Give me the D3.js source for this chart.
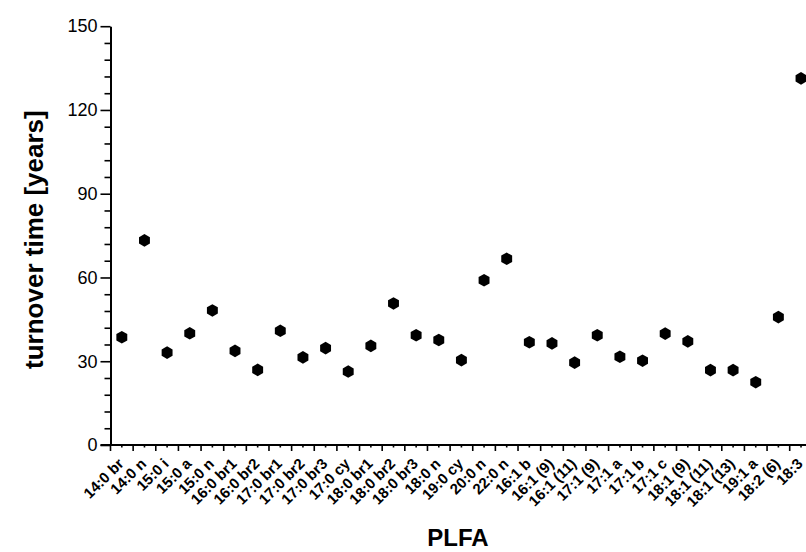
<!DOCTYPE html>
<html>
<head>
<meta charset="utf-8">
<script src="https://cdn.jsdelivr.net/npm/d3@7"></script>
<style>
  html, body { margin: 0; padding: 0; background: #fff; }
  svg { display: block; font-family: Arial, "Liberation Sans", sans-serif; }
</style>
</head>
<body>
<svg id="chart" width="806" height="552"></svg>
<script>
const categories = ["14:0 br","14:0 n","15:0 i","15:0 a","15:0 n","16:0 br1","16:0 br2","17:0 br1","17:0 br2","17:0 br3","17:0 cy","18:0 br1","18:0 br2","18:0 br3","18:0 n","19:0 cy","20:0 n","22:0 n","16:1 b","16:1 (9)","16:1 (11)","17:1 (9)","17:1 a","17:1 b","17:1 c","18:1 (9)","18:1 (11)","18:1 (13)","19:1 a","18:2 (6)","18:3"];
const turnoverYears = [38.6,73.3,33.1,40.0,48.2,33.7,26.9,40.9,31.4,34.7,26.3,35.5,50.7,39.3,37.6,30.4,59.0,66.7,36.8,36.4,29.5,39.3,31.6,30.2,39.9,37.1,26.8,26.8,22.5,45.8,131.3];
const yTickValues = [0,30,60,90,120,150];
const yMinorStep = 6;
const yTitle = "turnover time [years]";
const xTitle = "PLFA";

(function () {
const svg = d3.select("#chart");
const mLeft = 110.5, mTop = 26.2, mBottom = 445;
const bandW = 22.64;
const mRight = mLeft + bandW * categories.length;

const x = d3.scaleBand().domain(categories).range([mLeft, mRight]).padding(0);
const y = d3.scaleLinear().domain([0, 150]).range([mBottom, mTop]);

// y minor ticks
const yMinor = d3.range(0, 151, yMinorStep).filter(v => !yTickValues.includes(v));
svg.append("g").attr("transform", `translate(${mLeft},0)`)
  .call(d3.axisLeft(y).tickValues(yMinor).tickSize(6).tickFormat(""))
  .call(g => g.select(".domain").remove())
  .call(g => g.selectAll("line").attr("stroke", "#000").attr("stroke-width", 1.6));

// y major axis
const yAxis = svg.append("g").attr("transform", `translate(${mLeft},0)`)
  .call(d3.axisLeft(y).tickValues(yTickValues).tickSize(10).tickSizeOuter(0).tickPadding(3));
yAxis.select(".domain").attr("stroke", "#000").attr("stroke-width", 2);
yAxis.selectAll(".tick line").attr("stroke", "#000").attr("stroke-width", 1.6);
yAxis.selectAll(".tick text")
  .attr("font-family", "Arial, 'Liberation Sans', sans-serif")
  .attr("font-size", 18).attr("fill", "#000");

// x axis: small ticks at category centers, labels rotated
const xAxis = svg.append("g").attr("transform", `translate(0,${mBottom})`)
  .call(d3.axisBottom(x).tickSize(2.5).tickSizeOuter(0).tickPadding(0));
xAxis.select(".domain").attr("stroke", "#000").attr("stroke-width", 2)
  .attr("d", `M${mLeft - 10},0H${mRight}`);
xAxis.selectAll(".tick line").attr("stroke", "#000").attr("stroke-width", 1.6);
xAxis.selectAll(".tick text")
  .attr("font-family", "Arial, 'Liberation Sans', sans-serif")
  .attr("font-size", 15).attr("font-weight", "bold").attr("fill", "#000")
  .attr("text-anchor", "end")
  .attr("transform", "translate(-1,16) rotate(-45)")
  .attr("y", 0).attr("x", 0).attr("dy", "0.35em");

// x major ticks at band boundaries
const boundaries = categories.map(c => x(c)).concat([mRight]);
svg.append("g").selectAll("line").data(boundaries).join("line")
  .attr("x1", d => d).attr("x2", d => d)
  .attr("y1", mBottom).attr("y2", mBottom + 6)
  .attr("stroke", "#000").attr("stroke-width", 1.6);

// hexagon markers
const r = 6.3;
const hex = d3.range(6).map(i => {
  const a = (Math.PI / 180) * (-90 + 60 * i);
  return [r * Math.cos(a), r * Math.sin(a)];
});
const hexPath = "M" + hex.map(p => p.join(",")).join("L") + "Z";
svg.append("g").selectAll("path").data(categories).join("path")
  .attr("d", hexPath)
  .attr("transform", (c, i) => `translate(${x(c) + x.bandwidth() / 2},${y(turnoverYears[i])})`)
  .attr("fill", "#000");

// titles
svg.append("text")
  .attr("transform", `translate(43,${(mTop + mBottom) / 2 + 4}) rotate(-90)`)
  .attr("text-anchor", "middle")
  .attr("font-size", 26).attr("font-weight", "bold")
  .text(yTitle);
svg.append("text")
  .attr("x", 458).attr("y", 546)
  .attr("text-anchor", "middle")
  .attr("font-size", 24).attr("font-weight", "bold")
  .text(xTitle);
})();
</script>
</body>
</html>
